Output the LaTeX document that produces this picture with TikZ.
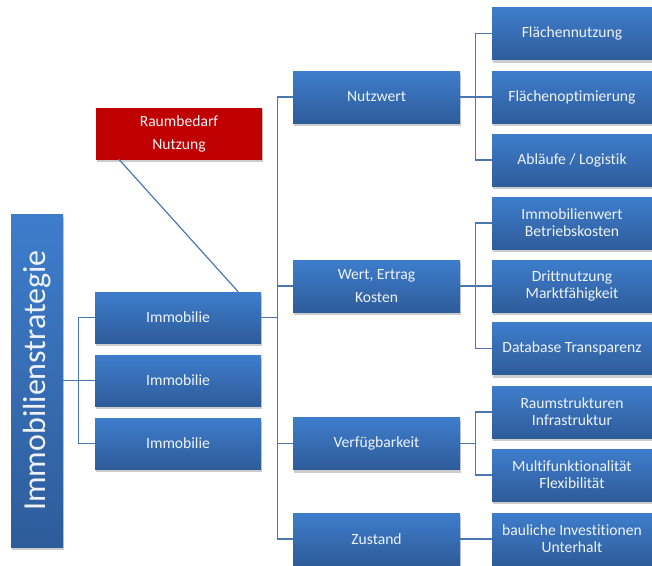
\documentclass[tikz,border=0pt]{standalone}
\usepackage{fontspec}
\setmainfont{Carlito}[RawFeature=-liga]
\usetikzlibrary{shadows}
\definecolor{boxtop}{HTML}{3E7DCC}
\definecolor{boxbot}{HTML}{2E5C9A}
\definecolor{boxtext}{HTML}{EEF3FA}
\definecolor{linie}{HTML}{4A77B0}
\definecolor{rot}{HTML}{C00000}
\tikzset{
  kasten/.style={rectangle, inner sep=0pt, top color=boxtop, bottom color=boxbot,
    text=boxtext, align=center, font=\fontsize{15.6}{17}\selectfont,
    drop shadow={shadow xshift=1pt, shadow yshift=-3pt, opacity=0.4}},
  links/.style={kasten, minimum width=166pt, minimum height=51pt},
  mitte/.style={kasten, minimum width=167pt, minimum height=52pt},
  rechts/.style={kasten, minimum width=160pt, minimum height=52pt},
  weit/.style={font=\fontsize{15.6}{23}\selectfont},
  verbindung/.style={draw=linie, line width=1.2pt}
}
\begin{document}
\begin{tikzpicture}[x=1pt, y=-1pt]
        \useasboundingbox (0,0) rectangle (652,565);

        % Strategie
        \node[kasten, minimum width=52pt, minimum height=333pt] (strat) at (37, 380.5)
            {\rotatebox{90}{\fontsize{32}{32}\selectfont Immobilienstrategie}};

        % Immobilien
        \node[links] (imm1) at (178, 317.5) {Immobilie};
        \node[links] (imm2) at (178, 380.5) {Immobilie};
        \node[links] (imm3) at (178, 443.5) {Immobilie};

        % Raumbedarf
        \node[links, weit, top color=rot, bottom color=rot] (raum) at (179, 133.5) {Raumbedarf\\Nutzung};

        % Kriterien
        \node[mitte] (nutz) at (376.5, 97) {Nutzwert};
        \node[mitte, weit] (wert) at (376.5, 286) {Wert, Ertrag\\Kosten};
        \node[mitte] (verf) at (376.5, 443.5) {Verfügbarkeit};
        \node[mitte] (zust) at (376.5, 539) {Zustand};

        % Unterkriterien
        \node[rechts] (flnu) at (572, 33.5) {Flächennutzung};
        \node[rechts] (flop) at (572, 97) {Flächenoptimierung};
        \node[rechts] (ablf) at (572, 160) {Abläufe / Logistik};
        \node[rechts] (iwrt) at (572, 223) {Immobilienwert\\Betriebskosten};
        \node[rechts] (drit) at (572, 286) {Drittnutzung\\Marktfähigkeit};
        \node[rechts] (data) at (572, 348.5) {Database Transparenz};
        \node[rechts] (raus) at (572, 412) {Raumstrukturen\\Infrastruktur};
        \node[rechts] (mult) at (572, 475) {Multifunktionalität\\Flexibilität};
        \node[rechts] (baul) at (572, 539) {bauliche Investitionen\\Unterhalt};

        % Verbindungen Strategie - Immobilien
        \foreach \i in {imm1, imm2, imm3}
            \draw[verbindung] (strat.east) -- ++(15,0) |- (\i.west);

        % Verbindungen Immobilie - Kriterien
        \foreach \k in {nutz, wert, verf, zust}
            \draw[verbindung] (imm1.east) -- ++(16,0) |- (\k.west);

        % Verbindungen Kriterien - Unterkriterien
        \foreach \u in {flnu, flop, ablf}
            \draw[verbindung] (nutz.east) -- ++(15,0) |- (\u.west);
        \foreach \u in {iwrt, drit, data}
            \draw[verbindung] (wert.east) -- ++(15,0) |- (\u.west);
        \foreach \u in {raus, mult}
            \draw[verbindung] (verf.east) -- ++(15,0) |- (\u.west);
        \draw[verbindung] (zust.east) -- (baul.west);

        % Raumbedarf
        \draw[verbindung] ([xshift=23pt]raum.south west) -- ([xshift=-23pt]imm1.north east);

    \end{tikzpicture}
\end{document}
